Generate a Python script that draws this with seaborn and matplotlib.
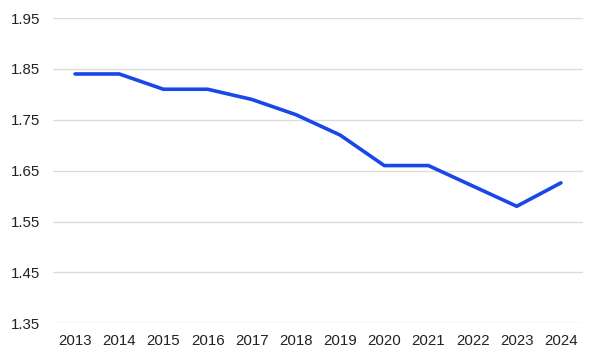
import pandas as pd
import matplotlib
matplotlib.use("Agg")
import matplotlib.pyplot as plt
import seaborn as sns

years = ['2013', '2014', '2015', '2016', '2017', '2018',
         '2019', '2020', '2021', '2022', '2023', '2024']
values = [1.84, 1.84, 1.81, 1.81, 1.79, 1.76,
          1.72, 1.66, 1.66, 1.62, 1.58, 1.626]
y_ticks = [1.35, 1.45, 1.55, 1.65, 1.75, 1.85, 1.95]

df = pd.DataFrame({'year': years, 'value': values})

sns.set_style('white')
plt.rcParams['font.family'] = ['Liberation Sans', 'DejaVu Sans']

fig = plt.figure(figsize=(6.04, 3.6), dpi=100)
ax = fig.add_axes([53 / 604, 36.7 / 360, 530 / 604, 305.3 / 360])

sns.lineplot(data=df, x='year', y='value', ax=ax, color='#1a47e8',
             linewidth=2.6, sort=False)

ax.set_xlim(-0.5, len(years) - 0.5)
ax.set_ylim(1.35, 1.95)
ax.set_yticks(y_ticks)
ax.set_yticklabels([f'{t:.2f}' for t in y_ticks])
ax.yaxis.grid(True, color='#dcdcdc', linewidth=1)
ax.set_axisbelow(True)
for s in ax.spines.values():
    s.set_visible(False)
ax.tick_params(axis='both', length=0, labelsize=10.8, colors='#222222')
ax.tick_params(axis='y', pad=9)
ax.tick_params(axis='x', pad=8)
ax.set_xlabel('')
ax.set_ylabel('')

fig.savefig('out.png', dpi=100)
